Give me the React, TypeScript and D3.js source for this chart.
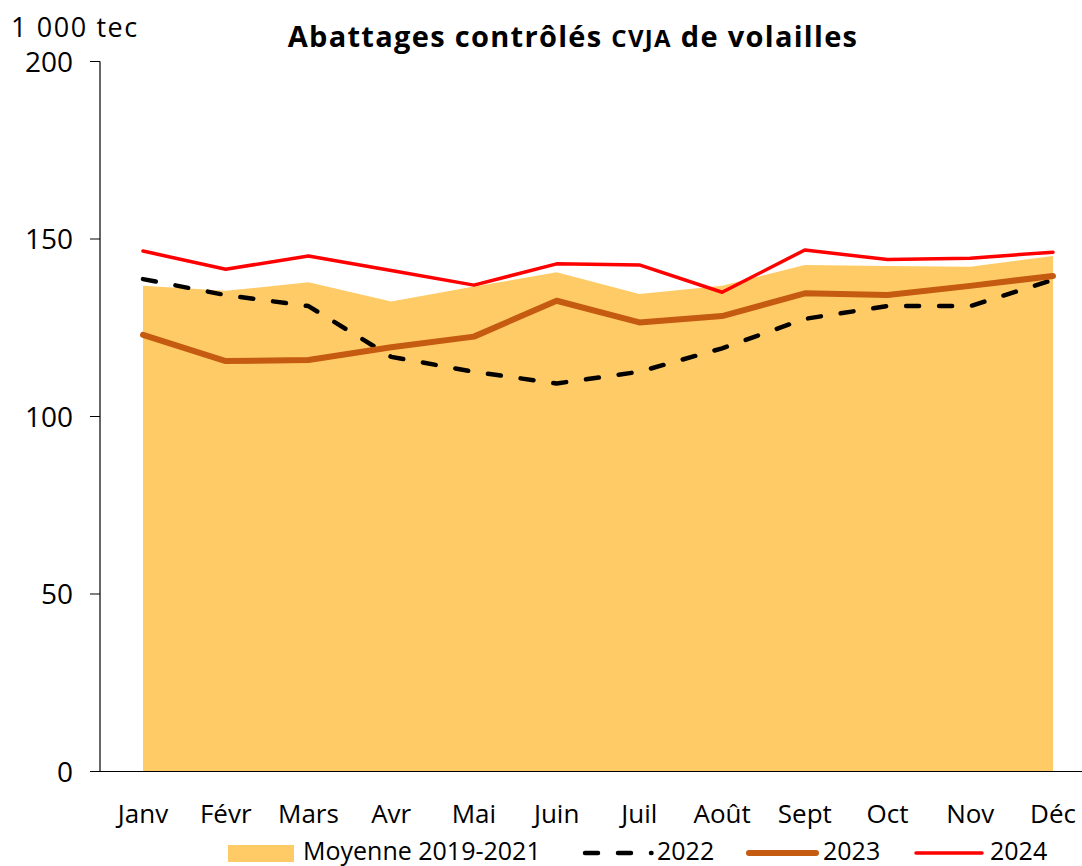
import React from "react";
import * as d3 from "d3";

const months = ["Janv", "Févr", "Mars", "Avr", "Mai", "Juin", "Juil", "Août", "Sept", "Oct", "Nov", "Déc"];
const moyenne = [136.8, 135.4, 137.8, 132.4, 136.6, 140.6, 134.5, 136.8, 142.7, 142.4, 142.2, 145.2];
const s2022 = [138.7, 134.2, 131.1, 116.8, 112.6, 109.3, 112.6, 119.2, 127.5, 131.1, 131.1, 138.5];
const s2023 = [123.0, 115.6, 115.9, 119.5, 122.5, 132.6, 126.5, 128.3, 134.7, 134.2, 136.8, 139.6];
const s2024 = [146.6, 141.5, 145.2, 141.1, 137.0, 143.0, 142.7, 135.0, 146.9, 144.2, 144.6, 146.3];
const yTicks = [0, 50, 100, 150, 200];

const FONT = "'Open Sans', sans-serif";

export default function App() {
  const W = 1082, H = 866;
  const x = d3.scalePoint<string>().domain(months).range([143, 1053]);
  const y = d3.scaleLinear().domain([0, 200]).range([771.5, 61.5]);
  const area = d3.area<number>().x((_, i) => x(months[i])!).y0(y(0)).y1(d => y(d));
  const line = d3.line<number>().x((_, i) => x(months[i])!).y(d => y(d));

  return (
    <svg width={W} height={H} style={{ position: "absolute", left: 0, top: 0, background: "#fff" }} fontFamily={FONT}>
      <text x={11} y={37} fontSize={27} fill="#000" letterSpacing={1.6}>1 000 tec</text>
      <text x={573} y={47} textAnchor="middle" fontSize={29} fontWeight="bold" fill="#000" letterSpacing={1.3}>
        Abattages contrôlés <tspan fontSize={24}>CVJA</tspan> de volailles
      </text>
      <path d={area(moyenne)!} fill="#FFCB66" />
      {yTicks.map(t => (
        <g key={t}>
          <line x1={90} x2={100} y1={y(t)} y2={y(t)} stroke="#000" strokeWidth={1} />
          <text x={73} y={y(t) + 10} textAnchor="end" fontSize={28} fill="#000">{t}</text>
        </g>
      ))}
      <line x1={100} x2={100} y1={y(200)} y2={y(0)} stroke="#000" strokeWidth={1.2} />
      <line x1={90} x2={1082} y1={y(0)} y2={y(0)} stroke="#000" strokeWidth={1.2} />
      {months.map(m => (
        <text key={m} x={x(m)} y={823} textAnchor="middle" fontSize={26} fill="#000">{m}</text>
      ))}
      <path d={line(s2022)!} fill="none" stroke="#000" strokeWidth={4.5} strokeDasharray="13,20" strokeLinecap="round" strokeLinejoin="round" />
      <path d={line(s2023)!} fill="none" stroke="#C55A11" strokeWidth={6} strokeLinecap="round" strokeLinejoin="round" />
      <path d={line(s2024)!} fill="none" stroke="#FF0000" strokeWidth={3.5} strokeLinecap="round" strokeLinejoin="round" />
      <g fontSize={25} fill="#000">
        <rect x={228} y={845} width={66} height={17} fill="#FFCB66" />
        <text x={303} y={860}>Moyenne 2019-2021</text>
        <line x1={585} x2={651.5} y1={853} y2={853} stroke="#000" strokeWidth={4.5} strokeDasharray="13,20" strokeLinecap="round" />
        <text x={657} y={860}>2022</text>
        <line x1={749} x2={816} y1={853} y2={853} stroke="#C55A11" strokeWidth={6} strokeLinecap="round" />
        <text x={823} y={860}>2023</text>
        <line x1={916} x2={982} y1={853} y2={853} stroke="#FF0000" strokeWidth={3.5} strokeLinecap="round" />
        <text x={990} y={860}>2024</text>
      </g>
    </svg>
  );
}
